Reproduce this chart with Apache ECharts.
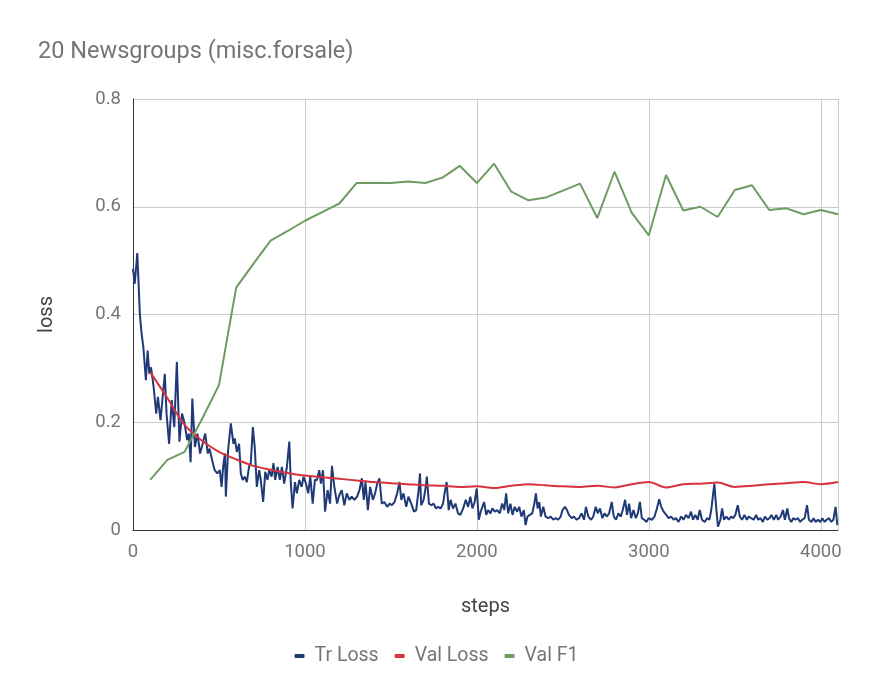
<!DOCTYPE html>
<html>
<head>
<meta charset="utf-8">
<script src="https://cdn.jsdelivr.net/npm/echarts@6/dist/echarts.min.js"></script>
<style>html,body{margin:0;padding:0;background:#fff;}#c{width:873px;height:700px;}</style>
</head>
<body>
<div id="c"></div>
<script>
var trSteps = [0,10,25,40,50,60,75,85,95,105,120,135,145,160,185,195,210,225,240,255,270,285,300,315,325,335,345,360,375,390,405,420,435,445,460,475,490,505,515,525,535,540,553,569,584,592,604,617,627,638,650,662,675,685,697,708,720,734,743,757,769,782,792,806,817,827,841,854,866,879,895,909,918,928,942,953,967,981,992,1006,1019,1031,1045,1058,1070,1083,1093,1105,1117,1132,1146,1157,1171,1187,1200,1214,1229,1243,1258,1272,1288,1303,1317,1331,1342,1352,1366,1379,1395,1408,1420,1433,1447,1462,1478,1492,1506,1521,1536,1550,1560,1573,1589,1602,1618,1634,1647,1661,1669,1676,1690,1701,1709,1721,1735,1748,1762,1774,1789,1803,1812,1824,1836,1847,1861,1875,1890,1904,1920,1935,1949,1962,1974,1987,1999,2011,2022,2042,2054,2065,2079,2090,2104,2118,2133,2147,2159,2170,2182,2195,2207,2220,2234,2246,2259,2273,2283,2294,2308,2322,2334,2343,2353,2363,2372,2386,2399,2415,2430,2444,2458,2473,2487,2498,2512,2524,2535,2551,2564,2580,2594,2609,2623,2634,2648,2664,2677,2691,2703,2716,2730,2742,2755,2769,2784,2796,2809,2823,2837,2848,2862,2873,2885,2897,2911,2924,2936,2948,2959,2973,2987,2998,3017,3033,3047,3060,3072,3086,3101,3115,3130,3144,3157,3173,3188,3202,3216,3231,3245,3257,3270,3284,3296,3309,3325,3338,3352,3363,3373,3381,3391,3402,3416,3426,3437,3451,3465,3478,3490,3503,3517,3529,3542,3556,3570,3581,3595,3610,3624,3636,3649,3663,3675,3688,3702,3713,3727,3741,3752,3766,3780,3791,3805,3815,3828,3840,3853,3867,3880,3892,3906,3920,3931,3945,3958,3970,3984,3997,4009,4022,4034,4048,4061,4073,4086,4096];
var trLoss = [0.485,0.457,0.514,0.40,0.364,0.34,0.278,0.333,0.29,0.302,0.265,0.216,0.247,0.204,0.29,0.216,0.16,0.241,0.191,0.312,0.164,0.216,0.198,0.167,0.179,0.126,0.244,0.154,0.179,0.142,0.16,0.179,0.142,0.151,0.13,0.111,0.105,0.111,0.08,0.12,0.142,0.062,0.148,0.198,0.16,0.17,0.145,0.16,0.105,0.093,0.099,0.089,0.118,0.124,0.191,0.154,0.08,0.111,0.093,0.052,0.108,0.093,0.111,0.099,0.124,0.093,0.117,0.093,0.117,0.086,0.117,0.164,0.086,0.04,0.089,0.068,0.093,0.08,0.099,0.086,0.068,0.099,0.049,0.093,0.093,0.111,0.086,0.111,0.034,0.074,0.049,0.119,0.08,0.049,0.065,0.074,0.046,0.068,0.056,0.062,0.056,0.062,0.074,0.096,0.056,0.089,0.037,0.08,0.056,0.068,0.086,0.096,0.049,0.052,0.043,0.049,0.046,0.052,0.068,0.089,0.056,0.068,0.043,0.062,0.049,0.034,0.037,0.074,0.105,0.046,0.056,0.077,0.099,0.049,0.046,0.049,0.04,0.043,0.04,0.049,0.068,0.089,0.037,0.056,0.04,0.049,0.031,0.028,0.04,0.056,0.043,0.062,0.04,0.052,0.077,0.019,0.034,0.052,0.028,0.037,0.031,0.04,0.034,0.037,0.031,0.049,0.037,0.068,0.031,0.049,0.028,0.043,0.034,0.043,0.025,0.037,0.009,0.025,0.028,0.031,0.049,0.068,0.04,0.052,0.025,0.043,0.025,0.022,0.025,0.019,0.022,0.019,0.025,0.037,0.043,0.037,0.028,0.022,0.025,0.019,0.022,0.031,0.019,0.043,0.025,0.019,0.025,0.043,0.031,0.04,0.022,0.031,0.025,0.031,0.052,0.025,0.019,0.031,0.025,0.037,0.056,0.028,0.049,0.022,0.037,0.022,0.031,0.052,0.022,0.019,0.015,0.022,0.019,0.025,0.04,0.057,0.043,0.034,0.028,0.022,0.025,0.019,0.022,0.015,0.025,0.019,0.028,0.022,0.034,0.019,0.028,0.019,0.037,0.019,0.015,0.022,0.019,0.037,0.065,0.086,0.043,0.006,0.019,0.04,0.019,0.025,0.019,0.025,0.022,0.028,0.046,0.025,0.019,0.028,0.019,0.025,0.022,0.019,0.028,0.019,0.022,0.015,0.025,0.019,0.022,0.028,0.019,0.028,0.019,0.025,0.037,0.019,0.04,0.022,0.015,0.022,0.019,0.022,0.015,0.019,0.022,0.046,0.019,0.015,0.022,0.015,0.019,0.015,0.022,0.015,0.019,0.022,0.015,0.019,0.043,0.009];

var valSteps = [100,200,300,400,500,600,700,800,900,1000,1100,1200,1300,1400,1500,1600,1700,1800,1900,2000,2100,2200,2300,2400,2500,2600,2700,2800,2900,3000,3100,3200,3300,3400,3500,3600,3700,3800,3900,4000,4100];
var valLoss = [0.293,0.245,0.195,0.166,0.145,0.131,0.119,0.112,0.106,0.101,0.098,0.095,0.092,0.089,0.087,0.085,0.083,0.082,0.080,0.081,0.078,0.082,0.085,0.083,0.081,0.080,0.082,0.079,0.085,0.089,0.079,0.085,0.086,0.088,0.080,0.082,0.085,0.087,0.089,0.085,0.089];
var valF1 = [0.093,0.13,0.145,0.205,0.269,0.45,0.494,0.537,0.555,0.574,0.59,0.606,0.644,0.644,0.644,0.647,0.644,0.654,0.676,0.644,0.68,0.628,0.612,0.617,0.63,0.643,0.579,0.665,0.589,0.547,0.659,0.593,0.6,0.581,0.631,0.64,0.594,0.597,0.586,0.594,0.586];

var yTicks = [0, 0.2, 0.4, 0.6, 0.8];
var xTicks = [0, 1000, 2000, 3000, 4000];

function zip(a, b) { return a.map(function (v, i) { return [v, b[i]]; }); }

var chart = echarts.init(document.getElementById('c'));
var gray = '#757575';
chart.setOption({
  backgroundColor: '#fff',
  animation: false,
  textStyle: { fontFamily: 'Roboto' },
  title: {
    text: '20 Newsgroups (misc.forsale)',
    left: 33, top: 35,
    textStyle: { fontFamily: 'Roboto', fontSize: 23.5, fontWeight: 'normal', color: gray }
  },
  legend: {
    top: 641, left: 'center',
    icon: 'roundRect', itemWidth: 10, itemHeight: 4, itemGap: 16,
    textStyle: { fontFamily: 'Roboto', fontSize: 19.5, color: gray, padding: [0, 0, 0, 5] },
    data: ['Tr Loss', 'Val Loss', 'Val F1']
  },
  grid: { left: 133, right: 35, top: 99, bottom: 170, containLabel: false },
  xAxis: {
    type: 'value', min: 0, max: 4100, interval: 1000,
    name: 'steps', nameLocation: 'middle', nameGap: 67,
    nameTextStyle: { fontFamily: 'Roboto', fontSize: 20, color: '#444' },
    axisLine: { show: true, lineStyle: { color: '#333', width: 1 } },
    axisTick: { show: false },
    axisLabel: { fontFamily: 'Roboto', fontSize: 18.5, color: gray, margin: 13, showMaxLabel: false,
      formatter: function (v) { return xTicks.indexOf(v) >= 0 ? String(v) : ''; } },
    splitLine: { show: true, lineStyle: { color: '#cccccc', width: 1 } }
  },
  yAxis: {
    type: 'value', min: 0, max: 0.8, interval: 0.2,
    name: 'loss', nameLocation: 'middle', nameGap: 76,
    nameTextStyle: { fontFamily: 'Roboto', fontSize: 20, color: '#444' },
    axisLine: { show: true, lineStyle: { color: '#333', width: 1 } },
    axisTick: { show: false },
    axisLabel: { fontFamily: 'Roboto', fontSize: 18.5, color: gray, margin: 12,
      formatter: function (v) { var r = Math.round(v * 10) / 10; return yTicks.indexOf(r) >= 0 ? String(r) : ''; } },
    splitLine: { show: true, lineStyle: { color: '#cccccc', width: 1 } }
  },
  series: [
    { name: 'Tr Loss', type: 'line', data: zip(trSteps, trLoss), showSymbol: false, symbol: 'none',
      lineStyle: { color: '#1f3a76', width: 2 }, itemStyle: { color: '#1f3a76' } },
    { name: 'Val Loss', type: 'line', data: zip(valSteps, valLoss), showSymbol: false, symbol: 'none', smooth: 0.3,
      lineStyle: { color: '#d8323e', width: 2 }, itemStyle: { color: '#d8323e' } },
    { name: 'Val F1', type: 'line', data: zip(valSteps, valF1), showSymbol: false, symbol: 'none',
      lineStyle: { color: '#6f9b63', width: 2 }, itemStyle: { color: '#6f9b63' } }
  ]
});
</script>
</body>
</html>
